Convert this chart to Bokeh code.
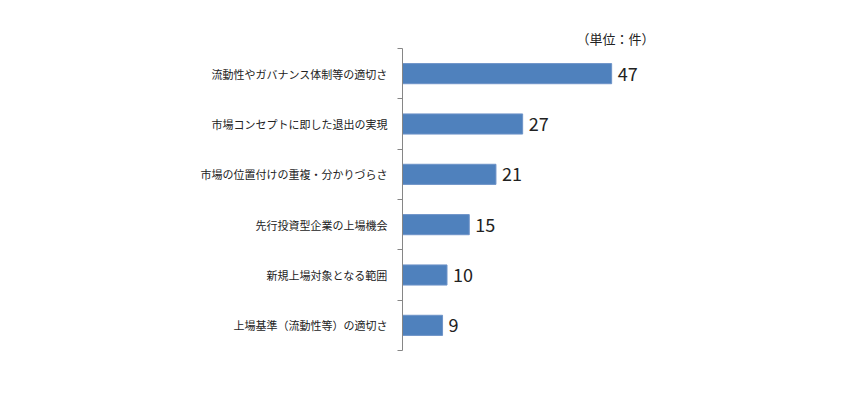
from bokeh.plotting import figure
from bokeh.models import ColumnDataSource, Range1d, FixedTicker
from bokeh.embed import file_html
from bokeh.resources import INLINE
from bokeh.core.properties import value

categories = [
    "流動性やガバナンス体制等の適切さ",
    "市場コンセプトに即した退出の実現",
    "市場の位置付けの重複・分かりづらさ",
    "先行投資型企業の上場機会",
    "新規上場対象となる範囲",
    "上場基準（流動性等）の適切さ",
]
counts = [47, 27, 21, 15, 10, 9]
unit_label = "（単位：件）"

n = len(categories)
ypos = [n - i - 0.5 for i in range(n)]
src = ColumnDataSource(dict(y=ypos, v=counts, t=[str(c) for c in counts]))

FONT = "Noto Sans CJK JP"

p = figure(width=840, height=384, output_backend="svg", toolbar_location=None,
           x_range=Range1d(0, 60), y_range=Range1d(0, n),
           min_border_left=402, min_border_right=171, min_border_top=48, min_border_bottom=34)
p.outline_line_color = None
p.grid.visible = False
p.xaxis.visible = False
p.background_fill_color = "white"
p.border_fill_color = "white"

p.title.text = unit_label
p.title.align = "right"
p.title.offset = 15
p.title.text_font = FONT
p.title.text_font_size = "13px"
p.title.text_font_style = "normal"
p.title.text_color = "#222222"
p.title.standoff = 2

p.hbar(y="y", right="v", left=0, height=0.4, source=src,
       fill_color="#4F81BD", line_color="#6E93C8", line_width=1)

p.text(x="v", y="y", text="t", source=src, x_offset=6, text_baseline="middle",
       text_align="left", text_font=value(FONT), text_font_size="18px", text_color="#222222")

ya = p.yaxis[0]
ya.ticker = FixedTicker(ticks=ypos, minor_ticks=list(range(n + 1)))
ya.major_label_overrides = {y: c for y, c in zip(ypos, categories)}
ya.major_tick_line_color = None
ya.minor_tick_line_color = "#868686"
ya.minor_tick_out = 5
ya.minor_tick_in = 0
ya.axis_line_color = "#868686"
ya.major_label_text_font = FONT
ya.major_label_text_font_size = "11px"
ya.major_label_text_color = "#222222"
ya.major_label_standoff = 9

open("out.html", "w").write(file_html(p, INLINE))
